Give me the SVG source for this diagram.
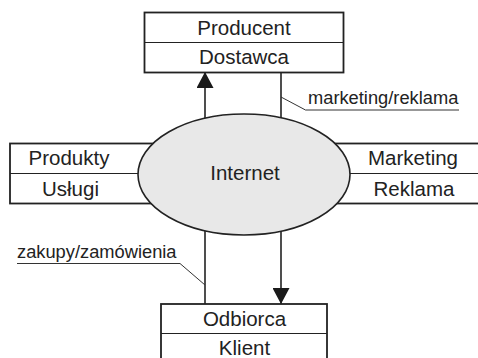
<svg xmlns="http://www.w3.org/2000/svg" width="478" height="358" viewBox="0 0 478 358">
  <style>
    .box { fill: #ffffff; stroke: #222222; stroke-width: 1.8; }
    .div { fill: none; stroke: #222222; stroke-width: 1.2; }
    .t { font-family: "Liberation Sans", Arial, sans-serif; font-size: 20.5px; fill: #222222; text-anchor: middle; }
    .lbl { font-family: "Liberation Sans", Arial, sans-serif; font-size: 18.3px; fill: #222222; }
    .flow { fill: none; stroke: #222222; stroke-width: 1.6; }
    .lead { fill: none; stroke: #333333; stroke-width: 1; }
  </style>
  <defs>
    <marker id="arrow" viewBox="0 0 16 17" refX="16" refY="8.5" markerWidth="16" markerHeight="17" markerUnits="userSpaceOnUse" orient="auto">
      <path d="M0,0 L16,8.5 L0,17 Z" fill="#1a1a1a"/>
    </marker>
  </defs>

  <!-- flows between the parties and the Internet -->
  <g id="connectors">
    <line class="flow" x1="205" y1="150" x2="205" y2="72" marker-end="url(#arrow)"/>
    <line class="flow" x1="281" y1="150" x2="281" y2="72"/>
    <line class="flow" x1="205" y1="200" x2="205" y2="304"/>
    <line class="flow" x1="281" y1="200" x2="281" y2="304" marker-end="url(#arrow)"/>
    <!-- label leaders -->
    <polyline class="lead" points="281,97 305.5,110 459,110"/>
    <polyline class="lead" points="205,285 180,263.5 17,263.5"/>
    <text class="lbl" x="308" y="103.5">marketing/reklama</text>
    <text class="lbl" x="17" y="258">zakupy/zamówienia</text>
  </g>

  <g id="produkty">
    <rect class="box" x="10" y="143.5" width="200" height="60"/>
    <line class="div" x1="10" y1="173.5" x2="210" y2="173.5"/>
    <text class="t" x="69" y="165">Produkty</text>
    <text class="t" x="70.5" y="195.5">Usługi</text>
  </g>

  <g id="marketing">
    <rect class="box" x="290" y="143.5" width="200" height="60"/>
    <line class="div" x1="290" y1="173.5" x2="490" y2="173.5"/>
    <text class="t" x="413" y="165">Marketing</text>
    <text class="t" x="414" y="195.5">Reklama</text>
  </g>

  <g id="internet">
    <ellipse cx="244" cy="174.5" rx="106" ry="60.5" fill="#e8e8e8" stroke="#222222" stroke-width="1.6"/>
    <text class="t" x="245" y="180">Internet</text>
  </g>

  <g id="producent">
    <rect class="box" x="144.5" y="12.5" width="199" height="60"/>
    <line class="div" x1="144.5" y1="42.5" x2="343.5" y2="42.5"/>
    <text class="t" x="244" y="34.5">Producent</text>
    <text class="t" x="244" y="64">Dostawca</text>
  </g>

  <g id="odbiorca">
    <rect class="box" x="161" y="304" width="166" height="62"/>
    <line class="div" x1="161" y1="333.5" x2="327" y2="333.5"/>
    <text class="t" x="244.5" y="326">Odbiorca</text>
    <text class="t" x="244.5" y="355">Klient</text>
  </g>
</svg>
